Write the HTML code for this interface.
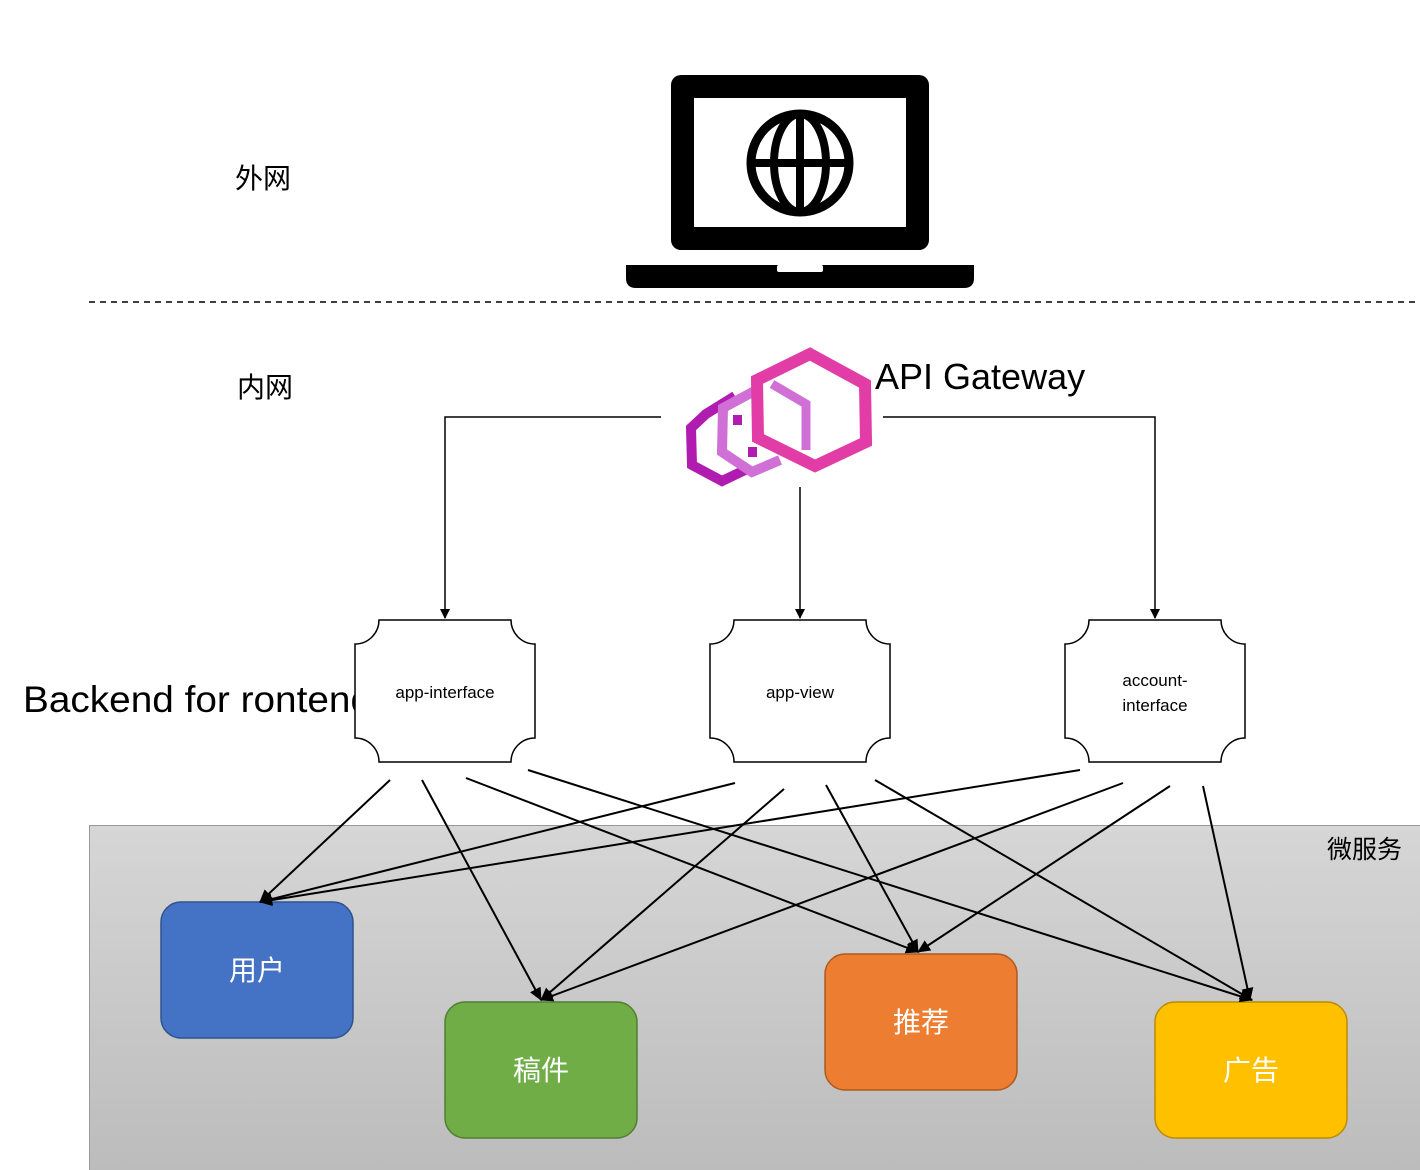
<!DOCTYPE html>
<html><head><meta charset="utf-8"><style>
html,body{margin:0;padding:0;background:#fff;}
svg{display:block;}
text{font-family:"Liberation Sans","Noto Sans CJK SC",sans-serif;}
</style></head><body>
<svg width="1420" height="1170" viewBox="0 0 1420 1170" xmlns="http://www.w3.org/2000/svg">
<defs>
<linearGradient id="g" x1="0" y1="0" x2="0" y2="1"><stop offset="0" stop-color="#d6d6d6"/><stop offset="1" stop-color="#bcbcbc"/></linearGradient>
<marker id="a" markerWidth="10" markerHeight="10" refX="9" refY="5" orient="auto" markerUnits="userSpaceOnUse"><path d="M0,0 L10,5 L0,10 z" fill="#000"/></marker>
<marker id="b" markerWidth="14" markerHeight="14" refX="12" refY="6" orient="auto" markerUnits="userSpaceOnUse"><path d="M0,0 L13,6 L0,12 z" fill="#000"/></marker>
</defs>
<text x="235" y="188" font-size="28">外网</text>
<text x="237" y="397" font-size="28">内网</text>
<!-- laptop -->
<rect x="671" y="75" width="258" height="175" rx="10" fill="#000"/>
<rect x="694" y="98" width="212" height="129" fill="#fff"/>
<circle cx="800" cy="163" r="49" fill="none" stroke="#000" stroke-width="9"/>
<ellipse cx="800" cy="163" rx="26" ry="49" fill="none" stroke="#000" stroke-width="8"/>
<line x1="800" y1="114" x2="800" y2="212" stroke="#000" stroke-width="8"/>
<line x1="751" y1="163" x2="849" y2="163" stroke="#000" stroke-width="8"/>
<path d="M626,265 H974 V278 Q974,288 964,288 H636 Q626,288 626,278 Z" fill="#000"/>
<rect x="777" y="265" width="46" height="7" rx="2" fill="#fff"/>
<line x1="89" y1="302" x2="1420" y2="302" stroke="#000" stroke-width="1.5" stroke-dasharray="6,5"/>
<!-- gateway logo -->
<polyline points="735,396 706,414 691,428 692,465 722,481 745,470" fill="none" stroke="#b01cb0" stroke-width="10"/>
<polyline points="760,388 723,408 722,452 752,472 780,460" fill="none" stroke="#d070d6" stroke-width="10"/>
<rect x="733" y="415" width="9" height="10" fill="#b01cb0"/><rect x="748" y="447" width="9" height="10" fill="#b01cb0"/>
<polygon points="810,354 865,384 866,442 815,466 758,438 757,380" fill="none" stroke="#e23da6" stroke-width="12"/>
<polyline points="772,384 806,404 806,450" fill="none" stroke="#d070d6" stroke-width="9"/>
<text x="875" y="389" font-size="36">API Gateway</text>
<!-- gateway connectors -->
<polyline points="661,417 445,417 445,618" fill="none" stroke="#000" stroke-width="1.5" marker-end="url(#a)"/>
<line x1="800" y1="487" x2="800" y2="618" stroke="#000" stroke-width="1.5" marker-end="url(#a)"/>
<polyline points="883,417 1155,417 1155,618" fill="none" stroke="#000" stroke-width="1.5" marker-end="url(#a)"/>
<text x="23" y="712" font-size="37" textLength="349" lengthAdjust="spacingAndGlyphs">Backend for rontend</text>
<!-- BFF nodes -->
<g fill="#fff" stroke="#000" stroke-width="1.5">
<path d="M379,620 H511 A24,24 0 0 0 535,644 V738 A24,24 0 0 0 511,762 H379 A24,24 0 0 0 355,738 V644 A24,24 0 0 0 379,620 Z"/>
<path d="M734,620 H866 A24,24 0 0 0 890,644 V738 A24,24 0 0 0 866,762 H734 A24,24 0 0 0 710,738 V644 A24,24 0 0 0 734,620 Z"/>
<path d="M1089,620 H1221 A24,24 0 0 0 1245,644 V738 A24,24 0 0 0 1221,762 H1089 A24,24 0 0 0 1065,738 V644 A24,24 0 0 0 1089,620 Z"/>
</g>
<text x="445" y="698" font-size="17" text-anchor="middle">app-interface</text>
<text x="800" y="698" font-size="17" text-anchor="middle">app-view</text>
<text x="1155" y="686" font-size="17" text-anchor="middle">account-</text>
<text x="1155" y="711" font-size="17" text-anchor="middle">interface</text>
<!-- microservice area -->
<rect x="89.5" y="825.5" width="1331" height="345" fill="url(#g)" stroke="#999"/>
<text x="1327" y="858" font-size="25">微服务</text>
<rect x="161" y="902" width="192" height="136" rx="20" fill="#4472c4" stroke="#2f528f" stroke-width="1.5"/>
<rect x="445" y="1002" width="192" height="136" rx="20" fill="#70ad47" stroke="#507e32" stroke-width="1.5"/>
<rect x="825" y="954" width="192" height="136" rx="20" fill="#ed7d31" stroke="#ae5a21" stroke-width="1.5"/>
<rect x="1155" y="1002" width="192" height="136" rx="20" fill="#ffc000" stroke="#bc8c00" stroke-width="1.5"/>
<g fill="#fff" font-size="28" text-anchor="middle">
<text x="257" y="980">用户</text>
<text x="541" y="1080">稿件</text>
<text x="921" y="1032">推荐</text>
<text x="1251" y="1080">广告</text>
</g>
<!-- arrows -->
<g stroke="#000" stroke-width="2" fill="none" marker-end="url(#b)">
<line x1="390" y1="780" x2="260" y2="902"/>
<line x1="422" y1="780" x2="541" y2="1000"/>
<line x1="466" y1="778" x2="918" y2="952"/>
<line x1="528" y1="770" x2="1252" y2="1000"/>
<line x1="735" y1="783" x2="260" y2="902"/>
<line x1="784" y1="789" x2="541" y2="1000"/>
<line x1="826" y1="785" x2="918" y2="952"/>
<line x1="875" y1="780" x2="1252" y2="1000"/>
<line x1="1080" y1="770" x2="260" y2="902"/>
<line x1="1123" y1="783" x2="541" y2="1000"/>
<line x1="1170" y1="786" x2="918" y2="952"/>
<line x1="1203" y1="786" x2="1250" y2="1000"/>
</g>
</svg>
</body></html>
